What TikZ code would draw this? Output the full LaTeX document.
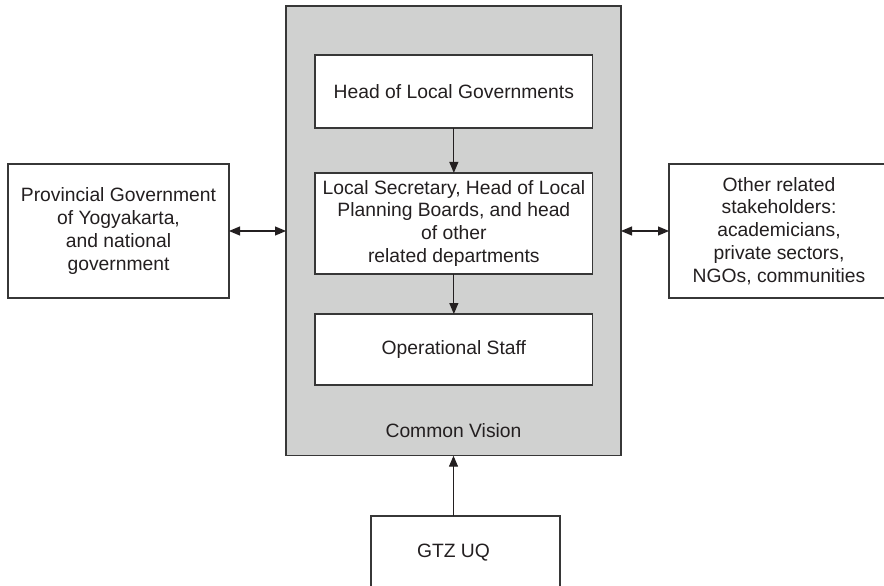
\documentclass[tikz,border=0pt]{standalone}
\usepackage{fontspec}
\setmainfont{Liberation Sans}
\usetikzlibrary{arrows.meta,calc}
\definecolor{panelgray}{RGB}{208,209,208}
\definecolor{ink}{RGB}{35,31,32}
\definecolor{edge}{RGB}{55,55,55}
\begin{document}
\begin{tikzpicture}[x=1pt,y=-1pt,
  every node/.style={font=\fontsize{19.3}{22.8}\selectfont, text=ink, inner sep=0pt, outer sep=0pt},
  boxnode/.style={draw=edge, line width=1.2pt, fill=white, rectangle, align=center},
  panel/.style={draw=edge, line width=1.2pt, fill=panelgray, rectangle},
  arr/.style={draw=ink, line width=1.2pt, -{Triangle[length=11pt,width=9pt]}},
  biarr/.style={draw=ink, line width=1.2pt, {Triangle[length=11pt,width=9pt]}-{Triangle[length=11pt,width=9pt]}}
]
\useasboundingbox (0,0) rectangle (884,586);
% central grey panel
\node[panel, minimum width=335pt, minimum height=449.7pt] (gray) at (453.5,230.85) {};
% inner boxes
\node[boxnode, minimum width=277.7pt, minimum height=73pt] (head) at (453.85,91.5) {Head of Local Governments};
\node[boxnode, minimum width=277.7pt, minimum height=101pt] (mid) at (453.85,223.4)
  {Local Secretary, Head of Local\\Planning Boards, and head\\of other\\related departments};
\node[boxnode, minimum width=277.7pt, minimum height=71pt] (op) at (453.85,349.5) {Operational Staff};
\node[anchor=base] (cv) at (453.5,437) {Common Vision};
% side boxes
\node[boxnode, minimum width=221pt, minimum height=134pt] (left) at (118.5,231)
  {Provincial Government\\of Yogyakarta,\\and national\\government};
\node[boxnode, minimum width=220pt, minimum height=134pt] (right) at (779,231)
  {Other related\\stakeholders:\\academicians,\\private sectors,\\NGOs, communities};
% bottom box
\node[boxnode, minimum width=189pt, minimum height=110pt] (gtz) at (465.5,571) {};
\node[anchor=base] (gtzlabel) at (453.5,557.3) {GTZ UQ};
% connectors
\draw[arr] (head.south) -- (mid.north);
\draw[arr] (mid.south) -- (op.north);
\draw[arr] (gray.south |- gtz.north) -- (gray.south);
\draw[biarr] (left.east) -- (left.east -| gray.west);
\draw[biarr] (gray.east |- right.west) -- (right.west);
\end{tikzpicture}
\end{document}
